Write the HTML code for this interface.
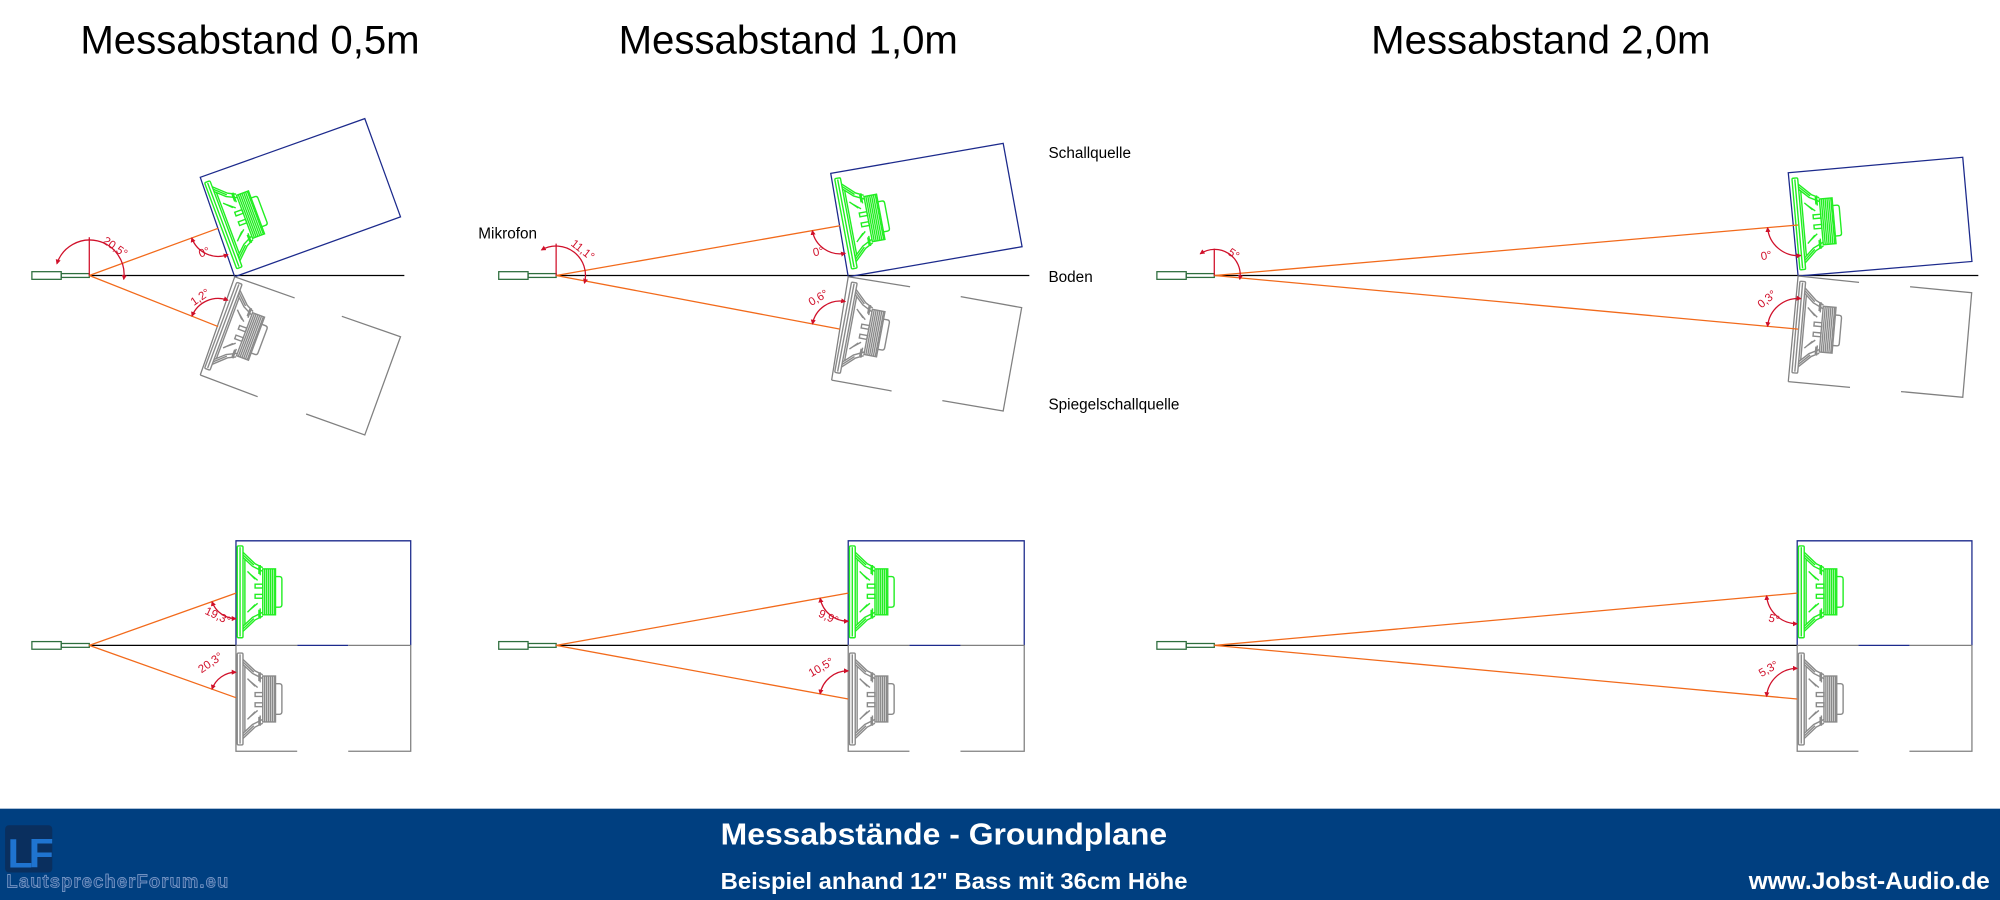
<!DOCTYPE html>
<html><head><meta charset="utf-8"><style>html,body{margin:0;padding:0;background:#fff}svg{display:block}</style></head>
<body>
<svg width="2000" height="900" viewBox="0 0 1568 705.6" preserveAspectRatio="none" xmlns="http://www.w3.org/2000/svg" font-family="Liberation Sans, Arial, sans-serif">
<defs>
<marker id="ah" viewBox="0 0 6 6" refX="5" refY="3" markerWidth="4" markerHeight="4" orient="auto-start-reverse"><path d="M0,0 L6,3 L0,6 z" fill="#d0102a"/></marker>
<g id="spk" fill="none" stroke-width="1.1">
<rect x="0" y="-36" width="4.5" height="72" rx="1"/>
<line x1="2.2" y1="-35" x2="2.2" y2="35"/>
<path d="M4.5,-31 L14,-22 L20,-19 M4.5,-27 L12,-20 L20,-16 M4.5,-29 L13,-21 M4.5,31 L14,22 L20,19 M4.5,27 L12,20 L20,16 M4.5,29 L13,21 M6,-26 L6,26 M8,-16 L14,-10 M8,16 L14,10 M10,-14 L16,-9 M10,14 L16,9"/>
<rect x="20" y="-18" width="10" height="36"/>
<path d="M21.5,-18 V18 M23,-18 V18 M24.5,-18 V18 M26,-18 V18 M27.5,-18 V18 M29,-18 V18 M17,-20 L17,-14 M17,20 L17,14 M18,-21 L18,-13 M18,21 L18,13"/>
<path d="M30,-12 h3 q2,0 2,2 v20 q0,2 -2,2 h-3"/>
<rect x="14" y="-6" width="6" height="3"/><rect x="14" y="2" width="6" height="3"/>
</g>
<g id="mic" fill="none" stroke="#2e6e3e" stroke-width="1"><rect x="-45" y="-3" width="23" height="6"/><rect x="-22" y="-1.5" width="22" height="3"/></g>
</defs>

<g font-size="31.5" text-anchor="middle" fill="#000">
<text x="196" y="42">Messabstand 0,5m</text>
<text x="618" y="42">Messabstand 1,0m</text>
<text x="1208" y="42">Messabstand 2,0m</text>
</g>
<g font-size="12" fill="#000">
<text x="822" y="124">Schallquelle</text>
<text x="375" y="187">Mikrofon</text>
<text x="822" y="221">Boden</text>
<text x="822" y="321">Spiegelschallquelle</text>
</g>

<g stroke="#000" stroke-width="1">
<line x1="70" y1="216" x2="317" y2="216"/>
<line x1="436" y1="216" x2="807" y2="216"/>
<line x1="952" y1="216" x2="1551" y2="216"/>
<line x1="70" y1="506" x2="185" y2="506"/>
<line x1="436" y1="506" x2="665" y2="506"/>
<line x1="952" y1="506" x2="1409" y2="506"/>
</g>

<use href="#mic" x="70" y="216"/><use href="#mic" x="436" y="216"/><use href="#mic" x="952" y="216"/>
<use href="#mic" x="70" y="506"/><use href="#mic" x="436" y="506"/><use href="#mic" x="952" y="506"/>

<g fill="none" stroke-width="1">
<polygon points="157,139 286,93 314,170 184,217" stroke="#1c2a8c"/>
<polyline points="157,294 184,217 231,233.6" stroke="#808080"/>
<polyline points="268,248 314,264 286,341 240,324.6" stroke="#808080"/>
<polyline points="202,311 157,294" stroke="#808080"/>

<polygon points="651.3,135.9 786.5,112.4 801.3,193.4 665,217" stroke="#1c2a8c"/>
<polyline points="652,298 665,217 713.5,224.8" stroke="#808080"/>
<polyline points="753.2,232.6 801,241.2 786.5,322.2 738.8,314.1" stroke="#808080"/>
<polyline points="699,306.5 652,298" stroke="#808080"/>

<polygon points="1402,135.4 1538.8,123.3 1546,205 1409.7,216.4" stroke="#1c2a8c"/>
<polyline points="1402,299.2 1409.7,216.4 1457.5,221.4" stroke="#808080"/>
<polyline points="1497.5,224.8 1545.8,229.5 1538.8,311.5 1490.4,307" stroke="#808080"/>
<polyline points="1450.4,303.7 1402,299.2" stroke="#808080"/>

<polyline points="185,506 185,424 322,424 322,506" stroke="#1c2a8c"/>
<line x1="233" y1="506" x2="273" y2="506" stroke="#1c2a8c"/>
<polyline points="185,506 233,506" stroke="#808080"/><polyline points="273,506 322,506" stroke="#808080"/>
<polyline points="185,506 185,589 233,589" stroke="#808080"/><polyline points="273,589 322,589 322,506" stroke="#808080"/>

<polyline points="665,506 665,424 803,424 803,506" stroke="#1c2a8c"/>
<line x1="713" y1="506" x2="753" y2="506" stroke="#1c2a8c"/>
<polyline points="665,506 713,506" stroke="#808080"/><polyline points="753,506 803,506" stroke="#808080"/>
<polyline points="665,506 665,589 713,589" stroke="#808080"/><polyline points="753,589 803,589 803,506" stroke="#808080"/>

<polyline points="1409,506 1409,424 1546,424 1546,506" stroke="#1c2a8c"/>
<line x1="1457" y1="506" x2="1497" y2="506" stroke="#1c2a8c"/>
<polyline points="1409,506 1457,506" stroke="#808080"/><polyline points="1497,506 1546,506" stroke="#808080"/>
<polyline points="1409,506 1409,589 1457,589" stroke="#808080"/><polyline points="1497,589 1546,589 1546,506" stroke="#808080"/>
</g>

<use href="#spk" stroke="#22ee22" transform="translate(173,177) rotate(-20.5)"/>
<g transform="translate(0,432) scale(1,-1)"><use href="#spk" stroke="#8a8a8a" transform="translate(173,177) rotate(-20.5)"/></g>
<use href="#spk" stroke="#22ee22" transform="translate(661,175.5) rotate(-10.6)"/>
<g transform="translate(0,432) scale(1,-1)"><use href="#spk" stroke="#8a8a8a" transform="translate(661,175.5) rotate(-10.6)"/></g>
<use href="#spk" stroke="#22ee22" transform="translate(1408,175.7) rotate(-5)"/>
<g transform="translate(0,432) scale(1,-1)"><use href="#spk" stroke="#8a8a8a" transform="translate(1408,175.7) rotate(-5)"/></g>
<use href="#spk" stroke="#22ee22" transform="translate(186,464)"/>
<use href="#spk" stroke="#8a8a8a" transform="translate(186,548) scale(1,-1)"/>
<use href="#spk" stroke="#22ee22" transform="translate(666,464)"/>
<use href="#spk" stroke="#8a8a8a" transform="translate(666,548) scale(1,-1)"/>
<use href="#spk" stroke="#22ee22" transform="translate(1410,464)"/>
<use href="#spk" stroke="#8a8a8a" transform="translate(1410,548) scale(1,-1)"/>

<g stroke="#f26a1b" stroke-width="1">
<line x1="70" y1="216" x2="171" y2="179"/><line x1="70" y1="216" x2="171" y2="256"/>
<line x1="436" y1="216" x2="658.6" y2="177"/><line x1="436" y1="216" x2="658.6" y2="258"/>
<line x1="952" y1="216" x2="1409.7" y2="176.4"/><line x1="952" y1="216" x2="1409.7" y2="258"/>
<line x1="70" y1="506" x2="185" y2="465"/><line x1="70" y1="506" x2="185" y2="547"/>
<line x1="436" y1="506" x2="665" y2="465"/><line x1="436" y1="506" x2="665" y2="548"/>
<line x1="952" y1="506" x2="1409" y2="465"/><line x1="952" y1="506" x2="1409" y2="548"/>
</g>

<g fill="none" stroke="#d0102a" stroke-width="1" marker-start="url(#ah)" marker-end="url(#ah)">
<path d="M44.6,206.8 A27,27 0 0 1 97,219"/>
<path d="M150.3,186.5 A22,22 0 0 0 178.7,199.6"/>
<path d="M178.7,235.4 A22,22 0 0 0 150.5,247.9"/>
<path d="M424.5,196 A23,23 0 0 1 458.2,222"/>
<path d="M636.9,180.8 A22,22 0 0 0 662.7,198.6"/>
<path d="M662.7,236.4 A22,22 0 0 0 637,254"/>
<path d="M941,199 A20,20 0 0 1 972,219"/>
<path d="M1385.8,178.5 A24,24 0 0 0 1411.8,200.3"/>
<path d="M1411.8,234.1 A24,24 0 0 0 1385.8,255.9"/>
<path d="M166.2,471.7 A20,20 0 0 0 185,485"/>
<path d="M185,527 A20,20 0 0 0 166.2,540.3"/>
<path d="M643,469 A22,22 0 0 0 665,487"/>
<path d="M665,526 A22,22 0 0 0 643,544"/>
<path d="M1385,467 A24,24 0 0 0 1409,489"/>
<path d="M1409,524 A24,24 0 0 0 1385,546"/>
</g>
<g stroke="#d0102a" stroke-width="1">
<line x1="70" y1="186" x2="70" y2="216"/><line x1="436" y1="191" x2="436" y2="216"/><line x1="952" y1="195" x2="952" y2="216"/>
</g>
<g font-size="9" fill="#d0102a">
<text transform="translate(80,190) rotate(35)">20,5°</text>
<text transform="translate(157,202) rotate(-20)">0°</text>
<text transform="translate(152,240) rotate(-35)">1,2°</text>
<text transform="translate(447,192) rotate(38)">11,1°</text>
<text transform="translate(638,201) rotate(-12)">0°</text>
<text transform="translate(636,240) rotate(-30)">0,6°</text>
<text transform="translate(962,199) rotate(35)">5°</text>
<text transform="translate(1381,204) rotate(-10)">0°</text>
<text transform="translate(1381,242) rotate(-40)">0,3°</text>
<text transform="translate(160,481) rotate(25)">19,3°</text>
<text transform="translate(158,528) rotate(-35)">20,3°</text>
<text transform="translate(641,483) rotate(25)">9,9°</text>
<text transform="translate(636,531) rotate(-30)">10,5°</text>
<text transform="translate(1386,487) rotate(15)">5°</text>
<text transform="translate(1381,531) rotate(-30)">5,3°</text>
</g>

<rect x="0" y="634" width="1568" height="72" fill="#003f80"/>
<rect x="4" y="647" width="37" height="37" rx="3" fill="#0a2f5e"/>
<text x="6" y="680" font-size="32" font-weight="bold" fill="#1f74d0" letter-spacing="-3">LF</text>
<text x="5" y="696" font-size="14.5" font-weight="bold" fill="#1d4f8f" stroke="#8aa6d0" stroke-width="0.5" textLength="174">LautsprecherForum.eu</text>
<text x="740" y="662" font-size="24" font-weight="bold" fill="#fff" text-anchor="middle" textLength="350" lengthAdjust="spacingAndGlyphs">Messabstände - Groundplane</text>
<text x="565" y="697" font-size="18" font-weight="bold" fill="#fff" textLength="366" lengthAdjust="spacingAndGlyphs">Beispiel anhand 12" Bass mit 36cm Höhe</text>
<text x="1560" y="697" font-size="19" font-weight="bold" fill="#fff" text-anchor="end" textLength="189" lengthAdjust="spacingAndGlyphs">www.Jobst-Audio.de</text>
</svg>
</body></html>
